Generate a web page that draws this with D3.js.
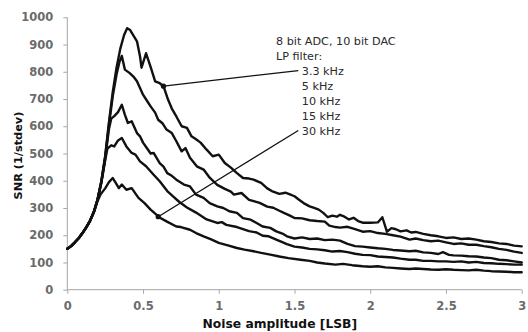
<!DOCTYPE html>
<html>
<head>
<meta charset="utf-8">
<script src="https://cdn.jsdelivr.net/npm/d3@7"></script>
<style>
  html, body { margin: 0; padding: 0; background: #fff; }
  svg { display: block; }
</style>
</head>
<body>
<svg id="chart" width="528" height="332"></svg>
<script>
// ---- data ----
const xTicks = [0, 0.5, 1, 1.5, 2, 2.5, 3];
const yTicks = [0, 100, 200, 300, 400, 500, 600, 700, 800, 900, 1000];
const titleLines = ["8 bit ADC, 10 bit DAC", "LP filter:"];
const seriesLabels = ["3.3 kHz", "5 kHz", "10 kHz", "15 kHz", "30 kHz"];

const lp3_3 = [[0,150],[0.025,160],[0.05,174],[0.075,189],[0.1,208],[0.125,229],[0.15,253],[0.175,285],[0.2,332],[0.225,398],[0.25,490],[0.275,615],[0.3,725],[0.325,815],[0.35,885],[0.375,935],[0.395,960],[0.415,953],[0.44,930],[0.46,912],[0.48,857],[0.49,815],[0.52,868],[0.55,818],[0.58,765],[0.61,758],[0.635,747],[0.665,698],[0.69,665],[0.72,636],[0.755,600],[0.79,594],[0.82,563],[0.85,552],[0.88,540],[0.92,514],[0.96,490],[1.0,496],[1.04,465],[1.08,448],[1.12,428],[1.16,410],[1.2,408],[1.23,404],[1.28,392],[1.32,372],[1.35,362],[1.4,352],[1.44,356],[1.47,350],[1.5,343],[1.53,330],[1.56,318],[1.6,306],[1.63,300],[1.66,294],[1.69,282],[1.72,266],[1.75,272],[1.78,268],[1.8,275],[1.83,268],[1.86,258],[1.89,264],[1.92,252],[1.95,246],[2.0,246],[2.05,247],[2.08,266],[2.11,213],[2.14,226],[2.17,222],[2.2,214],[2.24,218],[2.27,210],[2.3,212],[2.35,205],[2.4,200],[2.45,196],[2.5,190],[2.55,192],[2.6,186],[2.65,188],[2.7,184],[2.75,178],[2.8,175],[2.85,170],[2.9,168],[2.95,162],[3.0,159]];

const lp5 = [[0,150],[0.025,160],[0.05,174],[0.075,189],[0.1,208],[0.125,229],[0.15,253],[0.175,285],[0.2,332],[0.225,398],[0.25,488],[0.275,605],[0.3,710],[0.325,790],[0.345,838],[0.36,858],[0.38,808],[0.41,796],[0.44,780],[0.46,765],[0.5,716],[0.53,690],[0.55,673],[0.58,650],[0.6,624],[0.63,610],[0.655,588],[0.69,575],[0.72,545],[0.755,508],[0.78,520],[0.81,484],[0.855,453],[0.9,441],[0.94,411],[0.99,385],[1.04,370],[1.08,360],[1.1,349],[1.15,355],[1.2,330],[1.27,319],[1.32,305],[1.36,301],[1.4,290],[1.43,282],[1.47,272],[1.5,263],[1.55,262],[1.6,255],[1.65,252],[1.7,250],[1.73,235],[1.77,230],[1.8,228],[1.85,231],[1.9,222],[1.95,213],[2.0,215],[2.05,208],[2.1,205],[2.15,200],[2.2,195],[2.26,184],[2.3,188],[2.35,182],[2.4,178],[2.45,180],[2.5,174],[2.55,168],[2.6,170],[2.65,165],[2.7,165],[2.75,160],[2.8,156],[2.85,150],[2.9,146],[2.95,140],[3.0,135]];

const lp10 = [[0,150],[0.025,160],[0.05,174],[0.075,189],[0.1,208],[0.125,229],[0.15,253],[0.175,285],[0.2,331],[0.225,396],[0.25,480],[0.275,590],[0.29,628],[0.31,637],[0.335,652],[0.36,679],[0.38,643],[0.4,612],[0.425,618],[0.46,575],[0.48,563],[0.5,540],[0.525,520],[0.55,500],[0.57,502],[0.61,465],[0.635,452],[0.66,428],[0.69,418],[0.72,404],[0.77,386],[0.81,379],[0.85,349],[0.9,337],[0.94,318],[0.99,306],[1.03,300],[1.07,288],[1.12,282],[1.16,263],[1.21,257],[1.25,245],[1.29,232],[1.34,227],[1.38,214],[1.42,206],[1.45,196],[1.5,188],[1.55,192],[1.6,186],[1.65,188],[1.7,182],[1.75,184],[1.8,180],[1.85,168],[1.9,160],[1.95,158],[2.0,155],[2.05,152],[2.1,150],[2.15,146],[2.2,144],[2.26,141],[2.3,143],[2.35,137],[2.4,135],[2.45,131],[2.48,138],[2.52,128],[2.55,126],[2.6,125],[2.65,123],[2.7,122],[2.75,118],[2.8,116],[2.85,110],[2.9,108],[2.95,104],[3.0,100]];

const lp15 = [[0,150],[0.025,160],[0.05,174],[0.075,189],[0.1,208],[0.125,229],[0.15,253],[0.175,285],[0.2,330],[0.225,392],[0.25,475],[0.265,518],[0.29,530],[0.31,526],[0.335,548],[0.36,557],[0.39,526],[0.425,502],[0.45,496],[0.48,471],[0.52,453],[0.57,422],[0.61,398],[0.66,362],[0.7,342],[0.74,322],[0.79,302],[0.85,283],[0.92,258],[0.99,245],[1.02,248],[1.05,238],[1.12,230],[1.2,215],[1.25,210],[1.29,198],[1.33,196],[1.38,184],[1.45,167],[1.5,158],[1.55,155],[1.6,150],[1.65,148],[1.7,145],[1.75,140],[1.8,142],[1.85,138],[1.9,132],[1.95,128],[2.0,127],[2.05,122],[2.1,120],[2.15,118],[2.2,114],[2.26,110],[2.3,110],[2.35,106],[2.4,106],[2.45,104],[2.5,104],[2.55,102],[2.6,104],[2.65,100],[2.7,102],[2.75,98],[2.8,97],[2.85,95],[2.9,94],[2.95,92],[3.0,92]];

const lp30 = [[0,150],[0.025,160],[0.05,174],[0.075,189],[0.1,207],[0.125,228],[0.15,252],[0.175,283],[0.2,326],[0.22,350],[0.25,372],[0.275,395],[0.3,410],[0.32,392],[0.34,373],[0.36,386],[0.39,367],[0.425,373],[0.47,337],[0.51,318],[0.55,294],[0.59,275],[0.6,268],[0.655,251],[0.72,232],[0.75,230],[0.81,220],[0.85,208],[0.9,196],[0.95,185],[1.0,172],[1.06,163],[1.12,153],[1.17,147],[1.23,141],[1.28,135],[1.34,129],[1.4,122],[1.46,116],[1.54,110],[1.6,106],[1.65,100],[1.7,96],[1.77,92],[1.82,95],[1.88,90],[1.95,86],[2.0,84],[2.05,86],[2.1,82],[2.15,80],[2.2,78],[2.26,76],[2.3,78],[2.35,76],[2.4,74],[2.45,73],[2.5,75],[2.55,73],[2.6,72],[2.65,71],[2.7,73],[2.75,70],[2.8,68],[2.85,67],[2.9,66],[2.95,64],[3.0,64]];

const allSeries = [lp3_3, lp5, lp10, lp15, lp30];
// annotated points: [x, y] on 3.3 kHz and 30 kHz curves
const pointerTop = [0.635, 747];
const pointerBottom = [0.6, 268];

// ---- layout ----
const W = 528, H = 332;
const margin = {top: 17.3, right: 6.3, bottom: 42.3, left: 67.3};
const svg = d3.select("#chart");
const g = svg.append("g").attr("transform", `translate(${margin.left},${margin.top})`);
const iw = W - margin.left - margin.right;
const ih = H - margin.top - margin.bottom;

const x = d3.scaleLinear().domain([0, 3]).range([0, iw]);
const y = d3.scaleLinear().domain([0, 1000]).range([ih, 0]);

const axisColor = "#a6a6a6";
const tickText = "#6b6b6b";
const fontTick = "'DejaVu Sans', sans-serif";

// y axis
const yAxis = g.append("g")
  .call(d3.axisLeft(y).tickValues(yTicks).tickSize(4).tickPadding(10).tickFormat(d3.format("d")));
yAxis.select(".domain").attr("stroke", axisColor).attr("d", `M0,${ih}V0`);
yAxis.selectAll(".tick line").attr("stroke", axisColor);
yAxis.selectAll(".tick text").attr("fill", tickText)
  .style("font-family", fontTick).style("font-size", "11.5px").style("font-weight", "bold");

// x axis
const xAxis = g.append("g").attr("transform", `translate(0,${ih})`)
  .call(d3.axisBottom(x).tickValues(xTicks).tickSize(4).tickPadding(7.8).tickFormat(d => String(d)));
xAxis.select(".domain").attr("stroke", axisColor).attr("d", `M0,0H${iw}`);
xAxis.selectAll(".tick line").attr("stroke", axisColor);
xAxis.selectAll(".tick text").attr("fill", tickText)
  .style("font-family", fontTick).style("font-size", "11.5px").style("font-weight", "bold");

// axis titles
svg.append("text")
  .attr("transform", `translate(22,${margin.top + ih / 2 + 2}) rotate(-90)`)
  .attr("text-anchor", "middle")
  .style("font-family", fontTick).style("font-size", "11.3px").style("font-weight", "bold")
  .attr("fill", "#111")
  .text("SNR (1/stdev)");

svg.append("text")
  .attr("x", margin.left + x(1.403)).attr("y", 327.5)
  .attr("text-anchor", "middle")
  .style("font-family", fontTick).style("font-size", "12.3px").style("font-weight", "bold")
  .attr("fill", "#111")
  .text("Noise amplitude [LSB]");

// lines
const line = d3.line().x(d => x(d[0])).y(d => y(d[1]));
g.selectAll("path.series").data(allSeries).join("path")
  .attr("class", "series")
  .attr("d", line)
  .attr("fill", "none")
  .attr("stroke", "#111")
  .attr("stroke-width", 2.4)
  .attr("stroke-linejoin", "round")
  .attr("stroke-linecap", "round");

// annotation text
const annX = x(1.378), labX = x(1.548);
const baseY = y(900);
const lh = 15;
const annFont = "'DejaVu Sans', sans-serif";
titleLines.forEach((t, i) => {
  g.append("text").attr("x", annX).attr("y", baseY + i * lh)
    .style("font-family", annFont).style("font-size", "11.2px").attr("fill", "#2a2a2a").text(t);
});
seriesLabels.forEach((t, i) => {
  g.append("text").attr("x", labX).attr("y", baseY + (i + 2) * lh)
    .style("font-family", annFont).style("font-size", "11.2px").attr("fill", "#2a2a2a").text(t);
});

// leader lines and dots
const leaders = [
  {p: pointerTop, row: 2},
  {p: pointerBottom, row: 6}
];
leaders.forEach(L => {
  g.append("line")
    .attr("x1", x(L.p[0])).attr("y1", y(L.p[1]))
    .attr("x2", labX - 3.5).attr("y2", baseY + L.row * lh - 4)
    .attr("stroke", "#111").attr("stroke-width", 1.3);
  g.append("circle")
    .attr("cx", x(L.p[0])).attr("cy", y(L.p[1])).attr("r", 2.6)
    .attr("fill", "#111");
});
</script>
</body>
</html>
